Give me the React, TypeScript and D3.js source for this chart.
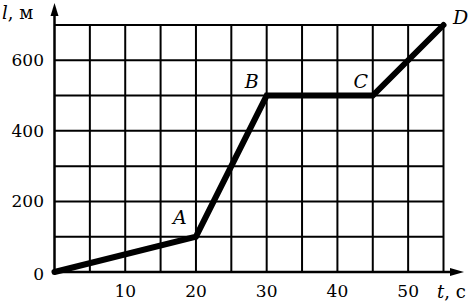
import React from "react";
import * as d3 from "d3";

const times = [0, 20, 30, 45, 55];
const distances = [0, 100, 500, 500, 700];
const pointLabels = ["", "A", "B", "C", "D"];
const xTicks = [10, 20, 30, 40, 50];
const yTicks = [0, 200, 400, 600];
const xGrid = d3.range(5, 56, 5);
const yGrid = d3.range(100, 701, 100);

const W = 472;
const H = 303;
const font = "'DejaVu Serif', 'Liberation Serif', serif";

export default function App() {
  const x = d3.scaleLinear().domain([0, 55]).range([54.5, 443.5]);
  const y = d3.scaleLinear().domain([0, 700]).range([272, 25]);
  const data = times.map((t, i) => ({ t, l: distances[i], label: pointLabels[i] }));
  const line = d3
    .line<{ t: number; l: number }>()
    .x((d) => x(d.t))
    .y((d) => y(d.l));

  const labelOffsets: Record<string, [number, number]> = {
    A: [-16, -20],
    B: [-15, -15],
    C: [-12, -15],
    D: [17, -8],
  };

  return (
    <svg
      width={W}
      height={H}
      style={{ position: "absolute", left: 0, top: 0, background: "#fff" }}
    >
      <rect width={W} height={H} fill="#fff" />
      {/* grid */}
      {xGrid.map((t) => (
        <line key={"gx" + t} x1={x(t)} x2={x(t)} y1={y(0)} y2={y(700)} stroke="#000" strokeWidth={2} />
      ))}
      {yGrid.map((v) => (
        <line key={"gy" + v} x1={x(0)} x2={x(55)} y1={y(v)} y2={y(v)} stroke="#000" strokeWidth={2} />
      ))}
      {/* axes */}
      <line x1={x(0)} x2={455} y1={y(0)} y2={y(0)} stroke="#000" strokeWidth={2.5} />
      <line x1={x(0)} x2={x(0)} y1={y(0)} y2={14} stroke="#000" strokeWidth={2.5} />
      <path d={`M${x(0) - 4},16 L${x(0)},3 L${x(0) + 4},16 Z`} fill="#000" />
      <path d={`M450,${y(0) - 4} L464,${y(0)} L450,${y(0) + 4} Z`} fill="#000" />
      {/* tick labels */}
      {yTicks.map((v) => (
        <text
          key={"yt" + v}
          x={44}
          y={y(v) + 6 + (v === 0 ? 2 : 0)}
          textAnchor="end"
          fontFamily={font}
          fontSize={17}
        >
          {v}
        </text>
      ))}
      {xTicks.map((t) => (
        <text key={"xt" + t} x={x(t)} y={297} textAnchor="middle" fontFamily={font} fontSize={17}>
          {t}
        </text>
      ))}
      {/* axis titles */}
      <text x={2} y={19} fontFamily={font} fontSize={18}>
        <tspan fontStyle="italic">l</tspan>
        <tspan>, м</tspan>
      </text>
      <text x={437} y={298} fontFamily={font} fontSize={18}>
        <tspan fontStyle="italic">t</tspan>
        <tspan>, с</tspan>
      </text>
      {/* graph */}
      <path
        d={line(data) || ""}
        fill="none"
        stroke="#000"
        strokeWidth={6}
        strokeLinejoin="miter"
        strokeLinecap="round"
      />
      {data
        .filter((d) => d.label)
        .map((d) => {
          const [dx, dy] = labelOffsets[d.label];
          return (
            <text
              key={d.label}
              x={x(d.t) + dx}
              y={y(d.l) + dy + 7}
              textAnchor="middle"
              fontFamily={font}
              fontStyle="italic"
              fontSize={19}
            >
              {d.label}
            </text>
          );
        })}
    </svg>
  );
}
